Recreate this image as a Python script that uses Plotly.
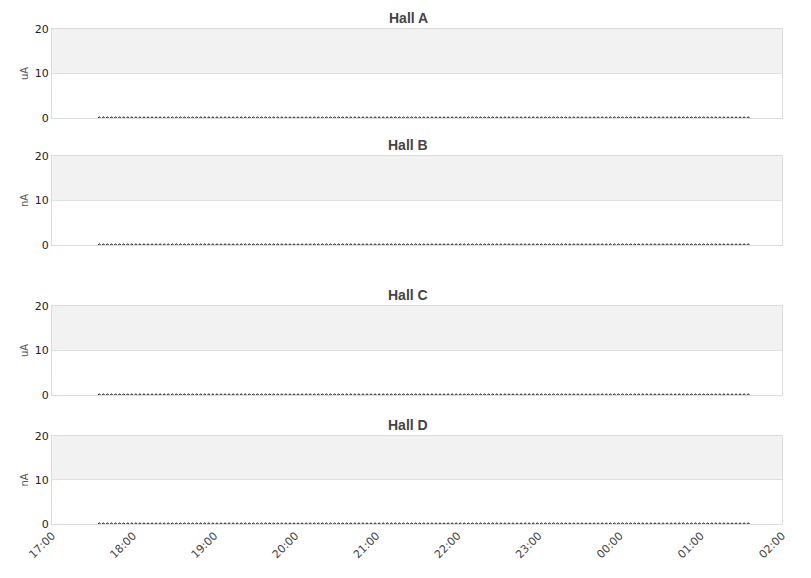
import pandas as pd
import plotly.graph_objects as go
from plotly.subplots import make_subplots

# four halls, current readings (all flat at zero over the window)
halls = ["Hall A", "Hall B", "Hall C", "Hall D"]
units = ["uA", "nA", "uA", "nA"]
start_time = "2024-01-01 17:35"
end_time = "2024-01-02 01:35"
sample_step = "3min"
reading_value = 0

x_range = ["2024-01-01 17:00", "2024-01-02 02:00"]
y_ticks = [0, 10, 20]

times = pd.date_range(start_time, end_time, freq=sample_step)
readings = [reading_value] * len(times)

domains = [[0.8202, 1.0], [0.5637, 0.7434], [0.2606, 0.4404], [0.0, 0.1778]]
title_y = [1.022, 0.765, 0.463, 0.200]

fig = make_subplots(rows=4, cols=1, shared_xaxes=True)

for i, name in enumerate(halls):
    row = i + 1
    fig.add_trace(
        go.Scatter(
            x=times, y=readings, mode="markers", name=name,
            marker=dict(symbol="circle-open", size=2, color="#111111",
                        line=dict(width=1, color="#111111")),
            showlegend=False,
        ),
        row=row, col=1,
    )
    fig.add_shape(
        type="rect", xref="x domain", yref="y" if row == 1 else f"y{row}",
        x0=0, x1=1, y0=10, y1=20,
        fillcolor="#f2f2f2", line_width=0, layer="below",
    )
    fig.update_yaxes(
        domain=domains[i], range=[0, 20], tickvals=y_ticks, automargin=False,
        showgrid=True, gridcolor="#e0e0e0", zeroline=False,
        showline=True, mirror=True, linecolor="#dcdcdc", linewidth=1,
        ticks="", tickfont=dict(family="DejaVu Sans", size=11, color="#222222"),
        title=dict(text=units[i], standoff=4,
                   font=dict(family="DejaVu Sans", size=10, color="#555555")),
        row=row, col=1,
    )
    fig.update_xaxes(
        range=x_range, showgrid=False, zeroline=False, automargin=False,
        showline=True, mirror=True, linecolor="#dcdcdc", linewidth=1,
        dtick=3600000, tickformat="%H:%M", tickangle=-45, ticks="",
        tickfont=dict(family="DejaVu Sans", size=11, color="#444444"),
        row=row, col=1,
    )
    fig.add_annotation(
        text=f"<b>{name}</b>", xref="paper", yref="paper",
        x=0.488, y=title_y[i], showarrow=False, xanchor="center", yanchor="middle",
        font=dict(family="Liberation Sans", size=14, color="#444444"),
    )

fig.update_layout(
    width=811, height=578,
    margin=dict(l=52, r=29, t=29, b=54),
    plot_bgcolor="white", paper_bgcolor="white",
)

# the page's default body margin would shift the whole figure
fig.write_html("out.html", config={"displayModeBar": False},
               post_script="document.body.style.margin='0';")
